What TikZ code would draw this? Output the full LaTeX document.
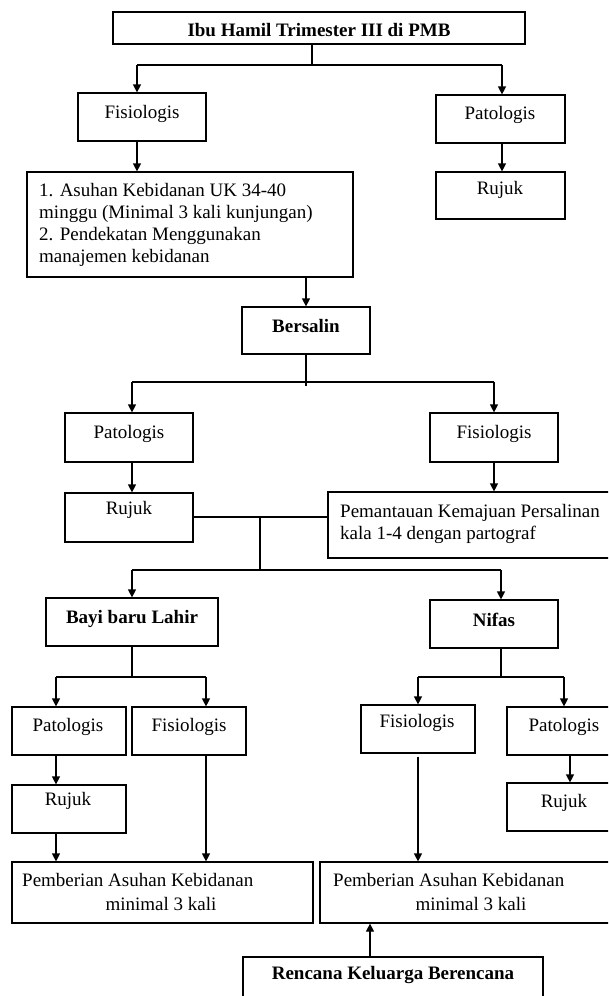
\documentclass[tikz,border=0pt]{standalone}
\usepackage{fontspec}
\setmainfont{Liberation Serif}
\usetikzlibrary{arrows.meta}
\begin{document}
\begin{tikzpicture}[x=1pt,y=-1pt,
  box/.style={draw=black,line width=1.2pt,rectangle,inner sep=0pt,fill=white},
  txt/.style={inner sep=0pt,font=\fontsize{19}{22}\selectfont},
  btxt/.style={inner sep=0pt,font=\fontsize{19}{22}\selectfont\bfseries},
  ln/.style={draw=black,line width=1.2pt},
  arr/.style={draw=black,line width=1.2pt,-{Triangle[length=8pt,width=8pt]}}]
\useasboundingbox (0,0) rectangle (608,996);
\clip (0,0) rectangle (608,996);
\fill[white] (0,0) rectangle (608,996);
% boxes
\node[box,minimum width=412,minimum height=32] (top) at (319,28) {};
\node[box,minimum width=128,minimum height=48] (fisA) at (142,117) {};
\node[box,minimum width=129,minimum height=48] (patA) at (500.5,119) {};
\node[box,minimum width=129,minimum height=47] (rujA) at (500.5,195.5) {};
\node[box,minimum width=326,minimum height=105] (list) at (190,224.5) {};
\node[box,minimum width=128,minimum height=47] (bers) at (306,330.5) {};
\node[box,minimum width=128,minimum height=49] (patB) at (129,437.5) {};
\node[box,minimum width=128,minimum height=49] (fisB) at (494,437.5) {};
\node[box,minimum width=128,minimum height=49] (rujB) at (129,517.5) {};
\node[box,minimum width=302,minimum height=66] (pem) at (479,525) {};
\node[box,minimum width=172,minimum height=48] (bayi) at (132,622) {};
\node[box,minimum width=128,minimum height=48] (nifas) at (494,624) {};
\node[box,minimum width=114,minimum height=48] (patC) at (69,731) {};
\node[box,minimum width=114,minimum height=48] (fisC) at (189,731) {};
\node[box,minimum width=114,minimum height=48] (rujC) at (69,809) {};
\node[box,minimum width=301,minimum height=61] (pemL) at (162.5,892.5) {};
\node[box,minimum width=114,minimum height=48] (fisD) at (418,729) {};
\node[box,minimum width=114,minimum height=48] (patD) at (564,731) {};
\node[box,minimum width=114,minimum height=48] (rujD) at (564,807) {};
\node[box,minimum width=310,minimum height=61] (pemR) at (475,892.5) {};
\node[box,minimum width=300,minimum height=53] (renc) at (393,983.5) {};
% texts
\node[btxt] (ttop) at (319,30) {Ibu Hamil Trimester III di PMB};
\node[txt] (tfisA) at (142,114) {Fisiologis};
\node[txt] (tpatA) at (500,115) {Patologis};
\node[txt] (trujA) at (500,190) {Rujuk};
\node[txt,anchor=north west,align=left] (tlist) at (39,183) {1. Asuhan Kebidanan UK 34-40\\minggu (Minimal 3 kali kunjungan)\\2. Pendekatan Menggunakan\\manajemen kebidanan};
\node[btxt] (tbers) at (306,326) {Bersalin};
\node[txt] (tpatB) at (129,434) {Patologis};
\node[txt] (tfisB) at (494,434) {Fisiologis};
\node[txt] (trujB) at (129,510) {Rujuk};
\node[txt,anchor=north west,align=left] (tpem) at (340,504) {Pemantauan Kemajuan Persalinan\\kala 1-4 dengan partograf};
\node[btxt] (tbayi) at (132,619) {Bayi baru Lahir};
\node[btxt] (tnifas) at (494,620) {Nifas};
\node[txt] (tpatC) at (68,727) {Patologis};
\node[txt] (tfisC) at (189,727) {Fisiologis};
\node[txt] (trujC) at (68,801) {Rujuk};
\node[txt,anchor=north west] (tpemL1) at (22,873) {Pemberian Asuhan Kebidanan};
\node[txt] (tpemL2) at (161,904) {minimal 3 kali};
\node[txt] (tfisD) at (417,723) {Fisiologis};
\node[txt] (tpatD) at (564,727) {Patologis};
\node[txt] (trujD) at (564,803) {Rujuk};
\node[txt,anchor=north west] (tpemR1) at (333,873) {Pemberian Asuhan Kebidanan};
\node[txt] (tpemR2) at (471,904) {minimal 3 kali};
\node[btxt] (trenc) at (393,975) {Rencana Keluarga Berencana};
% junctions
\coordinate (j1) at (312,65);
\coordinate (j1a) at (137,65);
\coordinate (j1b) at (502,65);
\coordinate (j2) at (306,382);
\coordinate (j2e) at (306,386);
\coordinate (j2a) at (132,382);
\coordinate (j2b) at (494,382);
\coordinate (j3) at (260,517);
\coordinate (j4) at (260,570);
\coordinate (j4a) at (132,570);
\coordinate (j4b) at (501,570);
\coordinate (j5) at (132,677);
\coordinate (j5a) at (56,677);
\coordinate (j5b) at (206,677);
\coordinate (j6) at (501,677);
\coordinate (j6a) at (418,677);
\coordinate (j6b) at (564,677);
\coordinate (k1) at (570,0);
\coordinate (k2) at (370,0);
% connectors
\draw[ln] (top.south -| j1) -- (j1);
\draw[ln] (j1a) -- (j1b);
\draw[arr] (j1a) -- (j1a |- fisA.north);
\draw[arr] (j1b) -- (j1b |- patA.north);
\draw[arr] (fisA.south -| j1a) -- (list.north -| j1a);
\draw[arr] (patA.south -| j1b) -- (rujA.north -| j1b);
\draw[arr] (list.south -| j2) -- (bers.north -| j2);
\draw[ln] (bers.south -| j2) -- (j2e);
\draw[ln] (j2a) -- (j2b);
\draw[arr] (j2a) -- (j2a |- patB.north);
\draw[arr] (j2b) -- (j2b |- fisB.north);
\draw[arr] (patB.south -| j2a) -- (rujB.north -| j2a);
\draw[arr] (fisB.south -| j2b) -- (pem.north -| j2b);
\draw[ln] (rujB.east |- j3) -- (pem.west |- j3);
\draw[ln] (j3) -- (j4);
\draw[ln] (j4a) -- (j4b);
\draw[arr] (j4a) -- (j4a |- bayi.north);
\draw[arr] (j4b) -- (j4b |- nifas.north);
\draw[ln] (bayi.south -| j5) -- (j5);
\draw[ln] (j5a) -- (j5b);
\draw[arr] (j5a) -- (j5a |- patC.north);
\draw[arr] (j5b) -- (j5b |- fisC.north);
\draw[arr] (patC.south -| j5a) -- (rujC.north -| j5a);
\draw[arr] (rujC.south -| j5a) -- (pemL.north -| j5a);
\draw[arr] (fisC.south -| j5b) -- (pemL.north -| j5b);
\draw[ln] (nifas.south -| j6) -- (j6);
\draw[ln] (j6a) -- (j6b);
\draw[arr] (j6a) -- (j6a |- fisD.north);
\draw[arr] (j6b) -- (j6b |- patD.north);
\draw[arr] ([yshift=-3pt]fisD.south -| j6a) -- (pemR.north -| j6a);
\draw[arr] (patD.south -| k1) -- (rujD.north -| k1);
\draw[arr] (renc.north -| k2) -- (pemR.south -| k2);
\end{tikzpicture}
\end{document}
